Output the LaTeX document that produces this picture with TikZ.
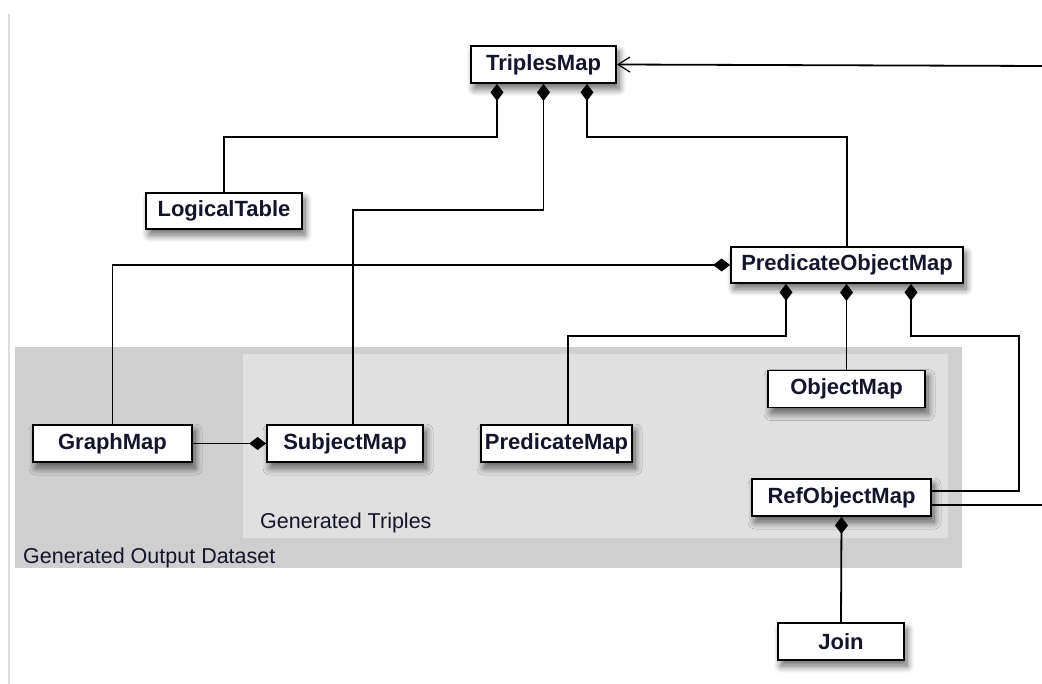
\documentclass[tikz,border=0pt]{standalone}
\usepackage{fontspec}
\setmainfont{Liberation Sans}
\usetikzlibrary{arrows.meta,shadows.blur,calc}
\definecolor{outerbg}{HTML}{CFCFCF}
\definecolor{innerbg}{HTML}{E0E0E0}
\definecolor{edgeline}{HTML}{DDDDDD}
\definecolor{txt}{HTML}{14142A}
\tikzset{
  umlbox/.style={draw=black, line width=1.8pt, fill=white, inner sep=0pt,
    text=txt, font=\fontsize{22}{24}\selectfont\bfseries,
    blur shadow={shadow xshift=3pt, shadow yshift=-6pt, shadow blur steps=10, shadow opacity=60, shadow blur radius=7pt}},
  conn/.style={draw=black, line width=1.8pt},
  comp/.style={conn, -{Diamond[length=17pt,width=13pt,fill=black]}},
  navarrow/.style={conn, -{Straight Barb[length=12pt,width=15pt,line width=1.2pt]}},
  grouplabel/.style={anchor=base west, inner sep=0pt, text=txt, font=\fontsize{21.5}{24}\selectfont},
}
\begin{document}
\begin{tikzpicture}[x=1pt,y=-1pt]
\useasboundingbox (0,0) rectangle (1042,684);
% left page edge line
\draw[edgeline, line width=2pt] (8.5,14) -- (8.5,684);
% group backgrounds
\fill[outerbg] (15,347) rectangle (962,568);
\fill[innerbg] (243,354) rectangle (948,538);
\node[grouplabel] (lblt) at (260,528) {Generated Triples};
\node[grouplabel] (lblo) at (23,563) {Generated Output Dataset};
% nodes
\node[umlbox, minimum width=145pt, minimum height=37pt] (tm) at (543.5,64.5) {TriplesMap};
\node[umlbox, minimum width=156pt, minimum height=36pt] (lt) at (224,211) {LogicalTable};
\node[umlbox, minimum width=232pt, minimum height=36pt] (pom) at (847,265) {PredicateObjectMap};
\node[umlbox, minimum width=159pt, minimum height=37pt] (gm) at (112.5,443.5) {GraphMap};
\node[umlbox, minimum width=156pt, minimum height=37pt] (sm) at (345,443.5) {SubjectMap};
\node[umlbox, minimum width=151pt, minimum height=37pt] (pm) at (556.5,443.5) {PredicateMap};
\node[umlbox, minimum width=157pt, minimum height=37pt] (om) at (846.5,389) {ObjectMap};
\node[umlbox, minimum width=179pt, minimum height=37pt] (rom) at (841.5,497.5) {RefObjectMap};
\node[umlbox, minimum width=126pt, minimum height=37pt] (jn) at (841,641.5) {Join};
% helper coordinates
\coordinate (k1) at (497,137);
\coordinate (k2) at (543.5,210);
\coordinate (k3) at (587,137);
\coordinate (k4) at (786,336);
\coordinate (k5) at (1019,336);
\coordinate (k6) at (911,336);
\coordinate (e1) at (1042,66);
\coordinate (e2) at (1042,505);
% connectors
\draw[comp] (lt.north) |- (k1) -- (k1 |- tm.south);
\draw[comp] ([xshift=8pt]sm.north) |- (k2) -- (tm.south);
\draw[comp] (pom.north) |- (k3) -- (k3 |- tm.south);
\draw[comp] (gm.north) |- (pom.west);
\draw[comp] (gm.east) -- (sm.west);
\draw[comp] ([xshift=11.5pt]pm.north) |- (k4) -- (k4 |- pom.south);
\draw[comp] (om.north) -- (om.north |- pom.south);
\draw[comp] ([yshift=6.5pt]rom.east) -| (k5) -- (k6) -- (k6 |- pom.south);
\draw[conn] ([yshift=-7.5pt]rom.east) -- (e2);
\draw[navarrow] (e1) -- (tm.east);
\draw[comp] (jn.north) -- (rom.south);
\end{tikzpicture}
\end{document}
